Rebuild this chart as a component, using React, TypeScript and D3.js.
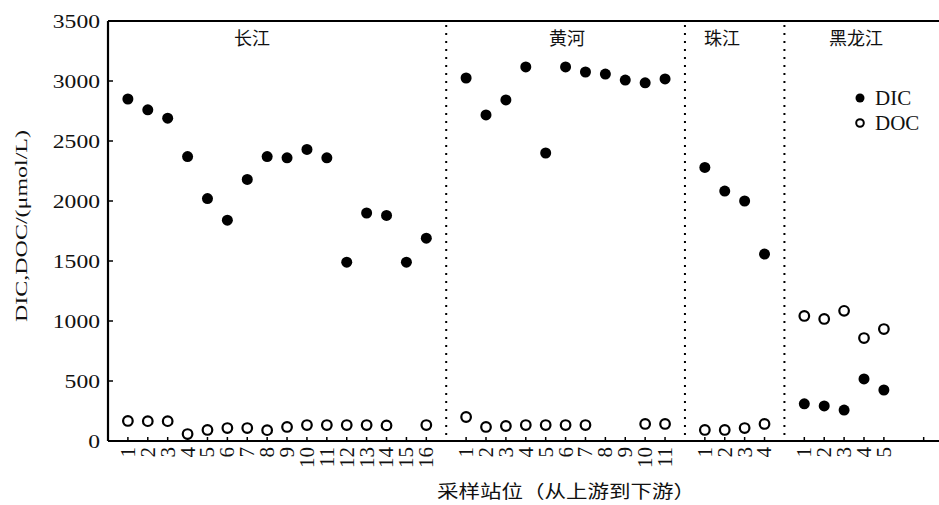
import React from "react";
import * as d3 from "d3";

// ---- data ----
const rivers = ["长江", "黄河", "珠江", "黑龙江"];
const yangtzeDIC = [2850, 2760, 2690, 2370, 2020, 1840, 2180, 2370, 2360, 2430, 2360, 1490, 1900, 1880, 1490, 1690];
const yangtzeDOC = [167, 165, 165, 58, 92, 108, 108, 90, 117, 133, 133, 133, 133, 130, null, 133];
const yellowDIC = [3025, 2717, 2842, 3117, 2400, 3117, 3075, 3058, 3008, 2985, 3017];
const yellowDOC = [200, 117, 125, 133, 133, 133, 133, null, null, 142, 142];
const pearlDIC = [2280, 2083, 2000, 1558];
const pearlDOC = [92, 92, 108, 142];
const heilongDIC = [310, 292, 258, 517, 425];
const heilongDOC = [1042, 1017, 1085, 858, 933];
const yTicks = [0, 500, 1000, 1500, 2000, 2500, 3000, 3500];
const legendItems = ["DIC", "DOC"];

const groups = [
  { name: rivers[0], dic: yangtzeDIC, doc: yangtzeDOC },
  { name: rivers[1], dic: yellowDIC, doc: yellowDOC },
  { name: rivers[2], dic: pearlDIC, doc: pearlDOC },
  { name: rivers[3], dic: heilongDIC, doc: heilongDOC },
];

// station slot positions (one empty slot between rivers)
type Station = { river: number; idx: number; pos: number; dic: number | null; doc: number | null };
const stations: Station[] = [];
const separators: number[] = [];
{
  let p = 1;
  groups.forEach((g, gi) => {
    g.dic.forEach((v, i) => {
      stations.push({ river: gi, idx: i + 1, pos: p, dic: v, doc: g.doc[i] });
      p += 1;
    });
    if (gi < groups.length - 1) separators.push(p);
    p += 1;
  });
}
const extraTick = 41;

export default function App() {
  const W = 939, H = 505;
  const x0 = 108, yTop = 21, yBot = 441;
  const x = d3.scaleLinear().domain([0, 41.77]).range([x0, 939]);
  const y = d3.scaleLinear().domain([0, 3500]).range([yBot, yTop]);
  const serif = "'Liberation Serif', 'Times New Roman', Times, serif";
  const cjk = "'Noto Sans CJK SC', sans-serif";
  const riverLabelX = [252, 567, 722, 856];

  return (
    <svg width={W} height={H} style={{ position: "absolute", left: 0, top: 0, background: "#fff" }}>
      <rect x={0} y={0} width={W} height={H} fill="#fff" />
      {/* frame */}
      <line x1={x0} x2={W} y1={yTop} y2={yTop} stroke="#000" strokeWidth={2} />
      <line x1={x0} x2={W} y1={yBot} y2={yBot} stroke="#000" strokeWidth={2.2} />
      <line x1={x0} x2={x0} y1={yTop} y2={yBot} stroke="#000" strokeWidth={2.2} />

      {/* y ticks */}
      {yTicks.map((t) => (
        <g key={t}>
          <line x1={x0} x2={x0 + 5} y1={y(t)} y2={y(t)} stroke="#000" strokeWidth={1.5} />
          <text
            x={100}
            y={y(t)}
            dy="0.35em"
            textAnchor="end"
            fontFamily={serif}
            fontSize={19}
            textLength={String(t).length * 11.8}
            lengthAdjust="spacingAndGlyphs"
            fill="#111"
          >
            {t}
          </text>
        </g>
      ))}

      {/* y label */}
      <text
        transform={`translate(21,226) rotate(-90)`}
        textAnchor="middle"
        dy="0.35em"
        fontFamily={serif}
        fontSize={17}
        textLength={192}
        lengthAdjust="spacingAndGlyphs"
        fill="#111"
      >
        DIC,DOC/(μmol/L)
      </text>

      {/* separators */}
      {separators.map((s) => (
        <line
          key={s}
          x1={x(s)}
          x2={x(s)}
          y1={yTop + 4}
          y2={yBot - 2}
          stroke="#000"
          strokeWidth={2}
          strokeDasharray="2,6"
        />
      ))}

      {/* river labels */}
      {groups.map((g, i) => (
        <text
          key={g.name}
          x={riverLabelX[i]}
          y={39}
          dy="0.35em"
          textAnchor="middle"
          fontFamily={cjk}
          fontSize={18}
          fill="#111"
        >
          {g.name}
        </text>
      ))}

      {/* x minor ticks */}
      {[...stations.map((s) => s.pos), extraTick].map((p, i) => (
        <line key={i} x1={x(p)} x2={x(p)} y1={yBot} y2={yBot - 4} stroke="#000" strokeWidth={1.5} />
      ))}

      {/* x tick labels (rotated) */}
      {stations.map((s, i) => (
        <text
          key={i}
          transform={`translate(${x(s.pos)},${yBot + 6}) rotate(-90)`}
          textAnchor="end"
          dy="0.33em"
          fontFamily={serif}
          fontSize={21}
          fill="#111"
        >
          {s.idx}
        </text>
      ))}

      {/* DOC */}
      {stations
        .filter((s) => s.doc !== null)
        .map((s, i) => (
          <circle key={"doc" + i} cx={x(s.pos)} cy={y(s.doc as number)} r={4.8} fill="#fff" stroke="#000" strokeWidth={2.2} />
        ))}
      {/* DIC */}
      {stations
        .filter((s) => s.dic !== null)
        .map((s, i) => (
          <circle key={"dic" + i} cx={x(s.pos)} cy={y(s.dic as number)} r={5.5} fill="#000" />
        ))}

      {/* legend */}
      {legendItems.map((name, i) => (
        <g key={name} transform={`translate(860,${98 + i * 25})`}>
          {i === 0 ? (
            <circle cx={0} cy={0} r={4.5} fill="#000" />
          ) : (
            <circle cx={0} cy={0} r={3.8} fill="#fff" stroke="#000" strokeWidth={2} />
          )}
          <text x={15} y={0} dy="0.35em" fontFamily={serif} fontSize={21} fill="#111">
            {name}
          </text>
        </g>
      ))}

      {/* x title */}
      <text
        x={566}
        y={492}
        dy="0.35em"
        textAnchor="middle"
        fontFamily={cjk}
        fontSize={18}
        textLength={258}
        lengthAdjust="spacingAndGlyphs"
        fill="#111"
      >
        采样站位（从上游到下游）
      </text>
    </svg>
  );
}
